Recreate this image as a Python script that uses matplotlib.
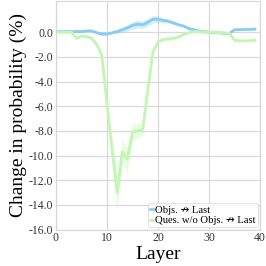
import numpy as np
import matplotlib
matplotlib.use('Agg')
import matplotlib.pyplot as plt

plt.rcParams['font.family'] = ['Liberation Serif', 'DejaVu Sans']

layers = np.arange(40)
# change in probability (%) per layer
objs_last = [0.05, 0.05, 0.05, 0.05, 0.05, 0.05, 0.1, 0.1, -0.05, -0.15,
             -0.15, -0.05, 0.05, 0.2, 0.35, 0.55, 0.65, 0.6, 0.8, 1.05,
             1.05, 0.95, 0.9, 0.75, 0.6, 0.5, 0.3, 0.2, 0.1, 0.05,
             0.0, -0.05, -0.05, -0.1, -0.1, 0.2, 0.2, 0.22, 0.22, 0.25]
objs_last_err = [0.03, 0.03, 0.03, 0.03, 0.03, 0.03, 0.05, 0.05, 0.08, 0.1,
                 0.1, 0.1, 0.15, 0.2, 0.25, 0.3, 0.3, 0.3, 0.3, 0.3,
                 0.25, 0.2, 0.15, 0.1, 0.08, 0.05, 0.05, 0.05, 0.05, 0.05,
                 0.05, 0.05, 0.05, 0.05, 0.05, 0.05, 0.05, 0.05, 0.05, 0.05]
ques_last = [0.0, 0.0, 0.0, 0.0, -0.5, -0.3, -0.35, -0.5, -1.0, -1.9,
             -5.8, -9.5, -13.0, -9.7, -10.3, -8.1, -8.0, -7.9, -4.7, -1.6,
             -0.8, -0.6, -0.55, -0.5, -0.4, -0.2, -0.05, 0.05, 0.05, 0.0,
             0.0, 0.0, -0.05, -0.05, -0.1, -0.65, -0.7, -0.7, -0.7, -0.65]
ques_last_err = [0.02, 0.02, 0.02, 0.05, 0.1, 0.1, 0.1, 0.15, 0.2, 0.3,
                 0.6, 0.9, 1.5, 1.0, 1.0, 0.7, 0.6, 0.5, 0.4, 0.3,
                 0.1, 0.1, 0.1, 0.1, 0.1, 0.05, 0.05, 0.05, 0.05, 0.05,
                 0.05, 0.05, 0.05, 0.05, 0.05, 0.05, 0.05, 0.05, 0.05, 0.05]

blue = '#86cdf0'
green = '#c3f6b3'

fig = plt.figure(figsize=(2.66, 2.66), dpi=100)
ax = fig.add_axes([0.2105, 0.137, 0.767, 0.858])

series = [(objs_last, objs_last_err, blue, 'Objs. \u219b Last'),
          (ques_last, ques_last_err, green, 'Ques. w/o Objs. \u219b Last')]
for vals, err, c, lab in series:
    vals = np.array(vals)
    err = np.array(err)
    ax.fill_between(layers, vals - err, vals + err, color=c, alpha=0.35, lw=0)
    ax.plot(layers, vals, color=c, lw=2.0, label=lab)

ax.set_xlim(0, 40)
ax.set_ylim(-16, 2.5)
ax.set_xticks([0, 10, 20, 30, 40])
ax.set_yticks(np.arange(-16, 0.1, 2))
ax.set_yticklabels(['%.1f' % v for v in np.arange(-16, 0.1, 2)])
ax.tick_params(labelsize=8.5, length=0, pad=2, colors='#333333')
ax.grid(True, color='#d9d9d9', lw=0.9)
ax.set_axisbelow(True)
for s in ax.spines.values():
    s.set_color('#d9d9d9')
    s.set_linewidth(0.9)

ax.set_xlabel('Layer', fontsize=14, labelpad=1)
ax.set_ylabel('Change in probability (%)', fontsize=14, labelpad=1)

leg = ax.legend(loc='lower right', fontsize=7.7, handlelength=0.3,
                handletextpad=0.2, borderpad=0.2, labelspacing=0.1,
                borderaxespad=0.2, frameon=True)
leg.get_frame().set_edgecolor('#dddddd')
leg.get_frame().set_linewidth(0.8)

fig.savefig('out.png', dpi=100)
